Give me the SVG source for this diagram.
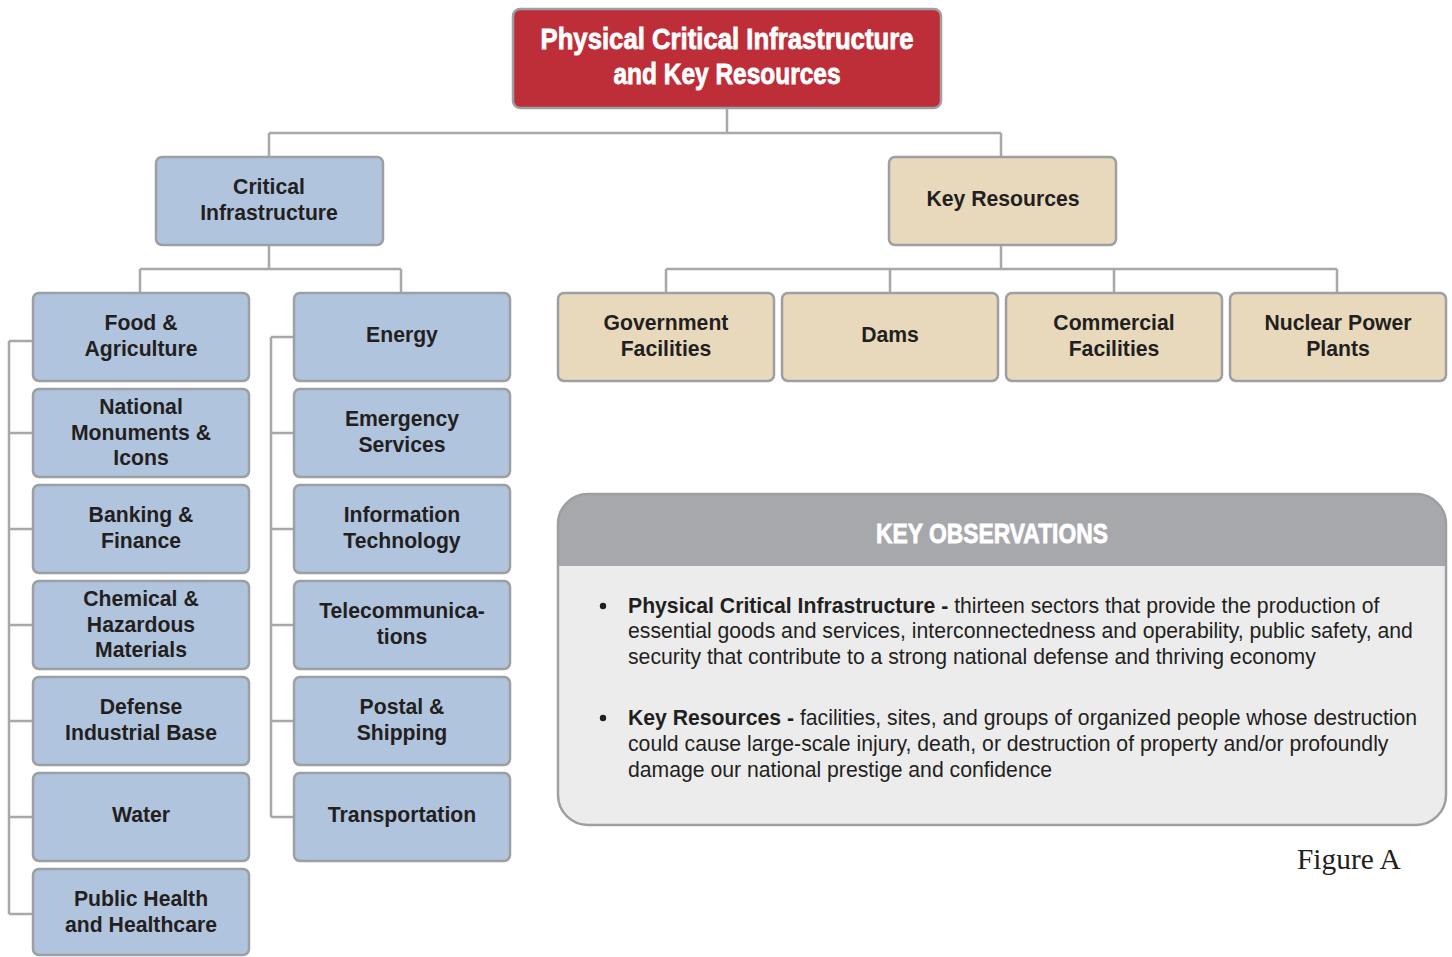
<svg xmlns="http://www.w3.org/2000/svg" width="1452" height="957" viewBox="0 0 1452 957">
<style>
.c{fill:none;stroke:#a7a8ab;stroke-width:2.5}
.b{fill:#b1c4de;stroke:#9d9fa2;stroke-width:2.5}
.t{fill:#e8d9bc;stroke:#9d9fa2;stroke-width:2.5}
.n{font-family:"Liberation Sans",Arial,sans-serif;font-weight:bold;font-size:21.2px;fill:#231f20;text-anchor:middle}
.h{font-family:"Liberation Sans",Arial,sans-serif;font-weight:bold;fill:#ffffff;stroke:#ffffff;stroke-width:0.8;text-anchor:middle}
.p{font-family:"Liberation Sans",Arial,sans-serif;font-size:21.2px;fill:#231f20}
.p tspan.k{font-weight:bold}
</style>
<rect width="1452" height="957" fill="#ffffff"/>
<g id="connectors">
<path class="c" d="M727,108V133M269,133H1001M269,133V157M1001,133V157"/>
<path class="c" d="M269,245V269M140,269H401M140,269V293M401,269V293"/>
<path class="c" d="M9,341V914M9,341H33M9,433H33M9,529H33M9,625H33M9,721H33M9,817H33M9,914H33"/>
<path class="c" d="M271,337V817M271,337H294M271,433H294M271,529H294M271,625H294M271,721H294M271,817H294"/>
<path class="c" d="M1001,245V269M666,269H1337M666,269V293M890,269V293M1114,269V293M1337,269V293"/>
</g>
<g id="root">
<rect x="513" y="9" width="428" height="99" rx="7" fill="#be2e39" stroke="#9d9fa2" stroke-width="2.5"/>
<text class="h" font-size="30" x="727" y="49" textLength="373" lengthAdjust="spacingAndGlyphs">Physical Critical Infrastructure</text>
<text class="h" font-size="30" x="727" y="84" textLength="227" lengthAdjust="spacingAndGlyphs">and Key Resources</text>
</g>
<g id="critical-infrastructure">
<rect class="b" x="156" y="157" width="227" height="88" rx="6"/>
<text class="n" x="269" y="194">Critical</text>
<text class="n" x="269" y="220">Infrastructure</text>
</g>
<g id="key-resources">
<rect class="t" x="889" y="157" width="227" height="88" rx="6"/>
<text class="n" x="1003" y="206">Key Resources</text>
</g>
<g id="food">
<rect class="b" x="33" y="293" width="216" height="88" rx="6"/>
<text class="n" x="141" y="330">Food &amp;</text>
<text class="n" x="141" y="356">Agriculture</text>
</g>
<g id="monuments">
<rect class="b" x="33" y="389" width="216" height="88" rx="6"/>
<text class="n" x="141" y="414">National</text>
<text class="n" x="141" y="439.5">Monuments &amp;</text>
<text class="n" x="141" y="465">Icons</text>
</g>
<g id="banking">
<rect class="b" x="33" y="485" width="216" height="88" rx="6"/>
<text class="n" x="141" y="522">Banking &amp;</text>
<text class="n" x="141" y="548">Finance</text>
</g>
<g id="chemical">
<rect class="b" x="33" y="581" width="216" height="88" rx="6"/>
<text class="n" x="141" y="606">Chemical &amp;</text>
<text class="n" x="141" y="631.5">Hazardous</text>
<text class="n" x="141" y="657">Materials</text>
</g>
<g id="defense">
<rect class="b" x="33" y="677" width="216" height="88" rx="6"/>
<text class="n" x="141" y="714">Defense</text>
<text class="n" x="141" y="740">Industrial Base</text>
</g>
<g id="water">
<rect class="b" x="33" y="773" width="216" height="88" rx="6"/>
<text class="n" x="141" y="822">Water</text>
</g>
<g id="health">
<rect class="b" x="33" y="869" width="216" height="86" rx="6"/>
<text class="n" x="141" y="906">Public Health</text>
<text class="n" x="141" y="932">and Healthcare</text>
</g>
<g id="energy">
<rect class="b" x="294" y="293" width="216" height="88" rx="6"/>
<text class="n" x="402" y="342">Energy</text>
</g>
<g id="emergency">
<rect class="b" x="294" y="389" width="216" height="88" rx="6"/>
<text class="n" x="402" y="426">Emergency</text>
<text class="n" x="402" y="452">Services</text>
</g>
<g id="it">
<rect class="b" x="294" y="485" width="216" height="88" rx="6"/>
<text class="n" x="402" y="522">Information</text>
<text class="n" x="402" y="548">Technology</text>
</g>
<g id="telecom">
<rect class="b" x="294" y="581" width="216" height="88" rx="6"/>
<text class="n" x="402" y="618">Telecommunica-</text>
<text class="n" x="402" y="644">tions</text>
</g>
<g id="postal">
<rect class="b" x="294" y="677" width="216" height="88" rx="6"/>
<text class="n" x="402" y="714">Postal &amp;</text>
<text class="n" x="402" y="740">Shipping</text>
</g>
<g id="transportation">
<rect class="b" x="294" y="773" width="216" height="88" rx="6"/>
<text class="n" x="402" y="822">Transportation</text>
</g>
<g id="government">
<rect class="t" x="558" y="293" width="216" height="88" rx="6"/>
<text class="n" x="666" y="330">Government</text>
<text class="n" x="666" y="356">Facilities</text>
</g>
<g id="dams">
<rect class="t" x="782" y="293" width="216" height="88" rx="6"/>
<text class="n" x="890" y="342">Dams</text>
</g>
<g id="commercial">
<rect class="t" x="1006" y="293" width="216" height="88" rx="6"/>
<text class="n" x="1114" y="330">Commercial</text>
<text class="n" x="1114" y="356">Facilities</text>
</g>
<g id="nuclear">
<rect class="t" x="1230" y="293" width="216" height="88" rx="6"/>
<text class="n" x="1338" y="330">Nuclear Power</text>
<text class="n" x="1338" y="356">Plants</text>
</g>
<g id="key-observations">
<path d="M588,494H1416A30,30 0 0 1 1446,524V795A30,30 0 0 1 1416,825H588A30,30 0 0 1 558,795V524A30,30 0 0 1 588,494Z" fill="#ececec"/>
<path d="M588,494H1416A30,30 0 0 1 1446,524V566H558V524A30,30 0 0 1 588,494Z" fill="#a7a8ac"/>
<path d="M588,494H1416A30,30 0 0 1 1446,524V795A30,30 0 0 1 1416,825H588A30,30 0 0 1 558,795V524A30,30 0 0 1 588,494Z" fill="none" stroke="#9d9fa2" stroke-width="2.5"/>
<text class="h" font-size="28" x="992" y="543" textLength="232" lengthAdjust="spacingAndGlyphs">KEY OBSERVATIONS</text>
<circle cx="603" cy="606" r="3.2" fill="#231f20"/>
<text class="p" x="628" y="613"><tspan class="k">Physical Critical Infrastructure -</tspan> thirteen sectors that provide the production of</text>
<text class="p" x="628" y="638">essential goods and services, interconnectedness and operability, public safety, and</text>
<text class="p" x="628" y="664">security that contribute to a strong national defense and thriving economy</text>
<circle cx="603" cy="718" r="3.2" fill="#231f20"/>
<text class="p" x="628" y="725"><tspan class="k">Key Resources -</tspan> facilities, sites, and groups of organized people whose destruction</text>
<text class="p" x="628" y="751">could cause large-scale injury, death, or destruction of property and/or profoundly</text>
<text class="p" x="628" y="777">damage our national prestige and confidence</text>
</g>
<text x="1297" y="869" font-family="'Liberation Serif','Times New Roman',serif" font-size="29.4" fill="#231f20">Figure A</text>
</svg>
